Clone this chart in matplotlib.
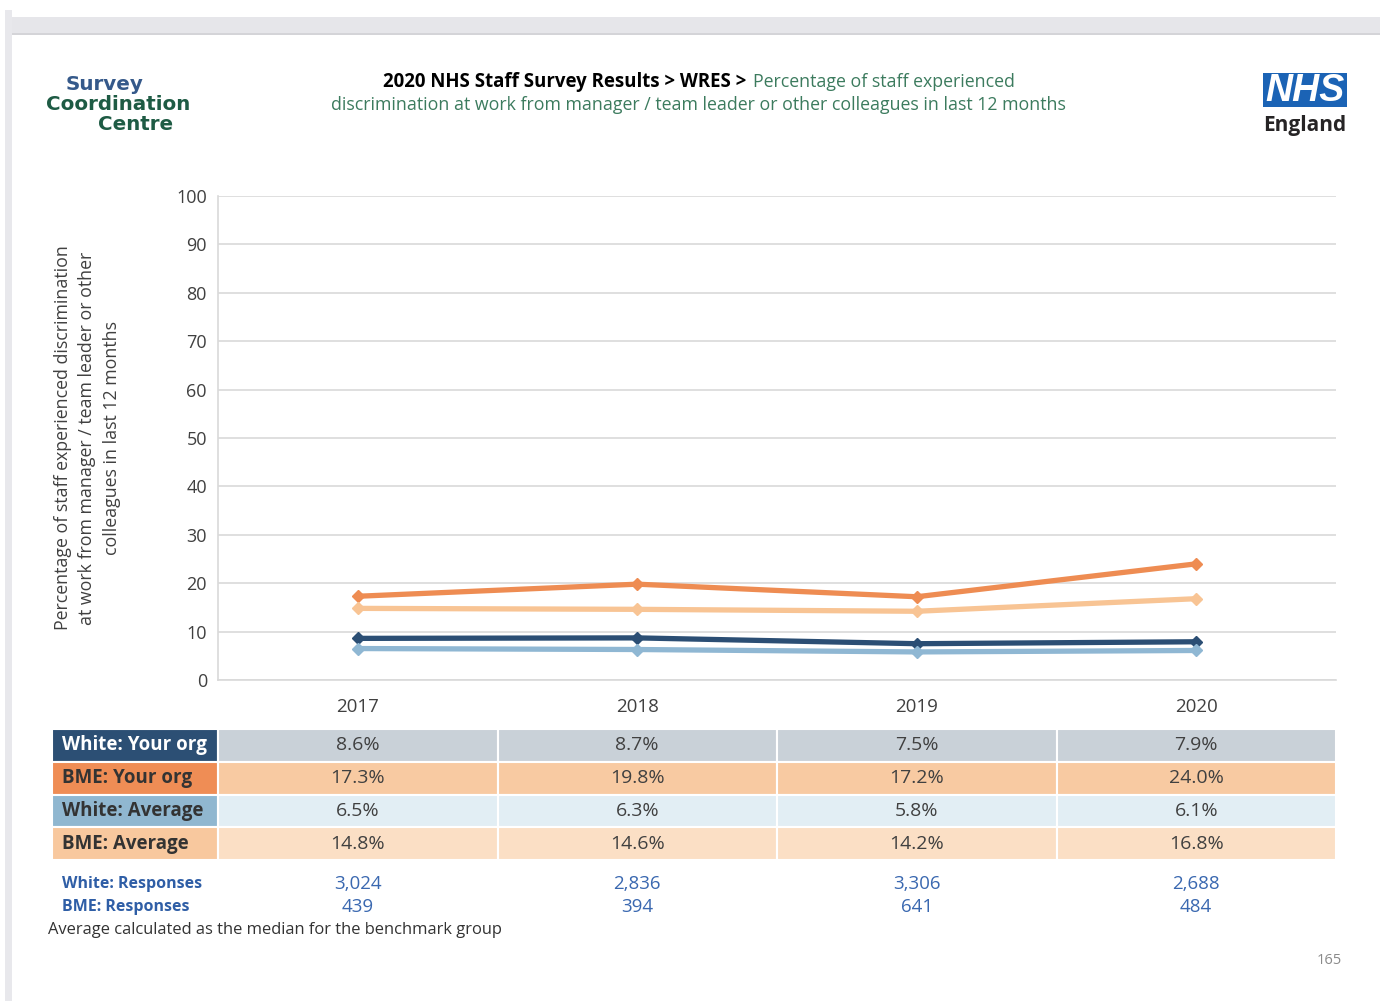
import matplotlib
matplotlib.use("Agg")
import matplotlib.pyplot as plt
from matplotlib.patches import Rectangle
from matplotlib.transforms import blended_transform_factory

# data
years = ["2017", "2018", "2019", "2020"]
white_org = [8.6, 8.7, 7.5, 7.9]
bme_org = [17.3, 19.8, 17.2, 24.0]
white_avg = [6.5, 6.3, 5.8, 6.1]
bme_avg = [14.8, 14.6, 14.2, 16.8]
white_resp = ["3,024", "2,836", "3,306", "2,688"]
bme_resp = ["439", "394", "641", "484"]

row_labels = ["White: Your org", "BME: Your org", "White: Average", "BME: Average"]
row_values = [white_org, bme_org, white_avg, bme_avg]
line_colors = ["#2b4e74", "#ee8c52", "#8fb7d3", "#f8c494"]
label_bg = ["#2c4f74", "#ef8d55", "#90b7d0", "#f8c89e"]
label_fg = ["white", "#333333", "#333333", "#333333"]
cell_bg = ["#c9d1d8", "#f8caa2", "#e2eef4", "#fbdfc5"]

W, H = 1380, 1001
plt.rcParams["font.family"] = ["Open Sans", "DejaVu Sans"]
fig = plt.figure(figsize=(W / 100, H / 100), dpi=100)


def fx(px):
    return px / W


def fy(py):
    return 1 - py / H


# page frame
fig.patches.append(Rectangle((fx(12), fy(34)), fx(W - 12), 17 / H, transform=fig.transFigure,
                             facecolor="#e6e6ea", edgecolor="none"))
fig.patches.append(Rectangle((fx(12), fy(35)), fx(W - 12), 2 / H, transform=fig.transFigure,
                             facecolor="#d4d4d8", edgecolor="none"))
fig.patches.append(Rectangle((fx(5), 0), 7 / W, fy(10), transform=fig.transFigure,
                             facecolor="#e8e8ec", edgecolor="none"))

# logos
fig.text(fx(105), fy(84), "Survey", color="#35598a", fontsize=14.3, fontweight="bold",
         ha="center", va="center", family="DejaVu Sans")
fig.text(fx(118), fy(104), "Coordination", color="#1e5b44", fontsize=14.3, fontweight="bold",
         ha="center", va="center", family="DejaVu Sans")
fig.text(fx(136), fy(125), "Centre", color="#1e5b44", fontsize=14.3, fontweight="bold",
         ha="center", va="center", family="DejaVu Sans")

fig.patches.append(Rectangle((fx(1263), fy(107)), 84 / W, 34 / H, transform=fig.transFigure,
                             facecolor="#1b63b5", edgecolor="none"))
fig.text(fx(1305), fy(91), "NHS", color="white", fontsize=27, fontweight="bold", style="italic",
         ha="center", va="center", family="Liberation Sans")
fig.text(fx(1305), fy(126), "England", color="#262425", fontsize=15, fontweight="bold",
         ha="center", va="center")

# title
fig.text(fx(751), fy(82), "2020 NHS Staff Survey Results > WRES > ", color="black",
         fontsize=13.4, fontweight="bold", ha="right", va="center")
fig.text(fx(753), fy(82), "Percentage of staff experienced", color="#3c7b5e",
         fontsize=12.8, ha="left", va="center")
fig.text(fx(698), fy(105), "discrimination at work from manager / team leader or other colleagues in last 12 months",
         color="#3c7b5e", fontsize=12.8, ha="center", va="center")

# line chart
ax = fig.add_axes([fx(218), fy(680), fx(1336 - 218), (680 - 196) / H])
x = list(range(len(years)))
for vals, c in zip(row_values, line_colors):
    ax.plot(x, vals, color=c, lw=3.8, marker="D", ms=6, solid_capstyle="butt", zorder=3)
ax.set_xlim(-0.5, 3.5)
ax.set_ylim(0, 100)
ax.set_yticks(range(0, 101, 10))
ax.set_xticks(x)
ax.set_xticklabels(years)
ax.grid(axis="y", color="#d9d9d9", lw=1.2)
ax.set_axisbelow(True)
for s in ["top", "right"]:
    ax.spines[s].set_visible(False)
ax.spines["left"].set_color("#d9d9d9")
ax.spines["left"].set_linewidth(1.2)
ax.spines["bottom"].set_color("#d9d9d9")
ax.spines["bottom"].set_linewidth(1.2)
ax.tick_params(axis="y", length=0, pad=8, labelsize=13, labelcolor="#404040")
ax.tick_params(axis="x", length=0, pad=13, labelsize=13.5, labelcolor="#404040")
ax.set_ylabel("Percentage of staff experienced discrimination\nat work from manager / team leader or other\ncolleagues in last 12 months",
              fontsize=12.8, color="#404040", linespacing=1.45, labelpad=40)

# table
label_w = (218 - 52) / ((1336 - 218) / 4)
tax = fig.add_axes([fx(52), fy(860), fx(1336 - 52), (860 - 729) / H])
tax.set_xlim(-0.5 - label_w, 3.5)
tax.set_ylim(len(row_labels), 0)
tax.axis("off")
for r, (lab, vals) in enumerate(zip(row_labels, row_values)):
    tax.add_patch(Rectangle((-0.5 - label_w, r), label_w, 1, facecolor=label_bg[r],
                            edgecolor="white", lw=1.5))
    tax.text(-0.5 - label_w + 0.035, r + 0.5, lab, color=label_fg[r], fontsize=13.5,
             fontweight="bold", ha="left", va="center")
    for c, v in enumerate(vals):
        tax.add_patch(Rectangle((c - 0.5, r), 1, 1, facecolor=cell_bg[r], edgecolor="white", lw=1.5))
        tax.text(c, r + 0.5, f"{v:.1f}%", color="#404040", fontsize=14, ha="center", va="center")

# responses
tr = blended_transform_factory(tax.transData, fig.transFigure)
fig.text(fx(62), fy(884), "White: Responses", color="#2f5ea6", fontsize=11.5, fontweight="bold",
         ha="left", va="center")
fig.text(fx(62), fy(907), "BME: Responses", color="#2f5ea6", fontsize=11.5, fontweight="bold",
         ha="left", va="center")
for c, (w, b) in enumerate(zip(white_resp, bme_resp)):
    tax.text(c, fy(884), w, transform=tr, color="#3a68b0", fontsize=13.5, ha="center", va="center")
    tax.text(c, fy(907), b, transform=tr, color="#3a68b0", fontsize=13.5, ha="center", va="center")

fig.text(fx(48), fy(930), "Average calculated as the median for the benchmark group", color="#333333",
         fontsize=11.9, ha="left", va="center")
fig.text(fx(1329), fy(960), "165", color="#8a8a8a", fontsize=10.5, ha="center", va="center")

fig.savefig("out.png", dpi=100)
